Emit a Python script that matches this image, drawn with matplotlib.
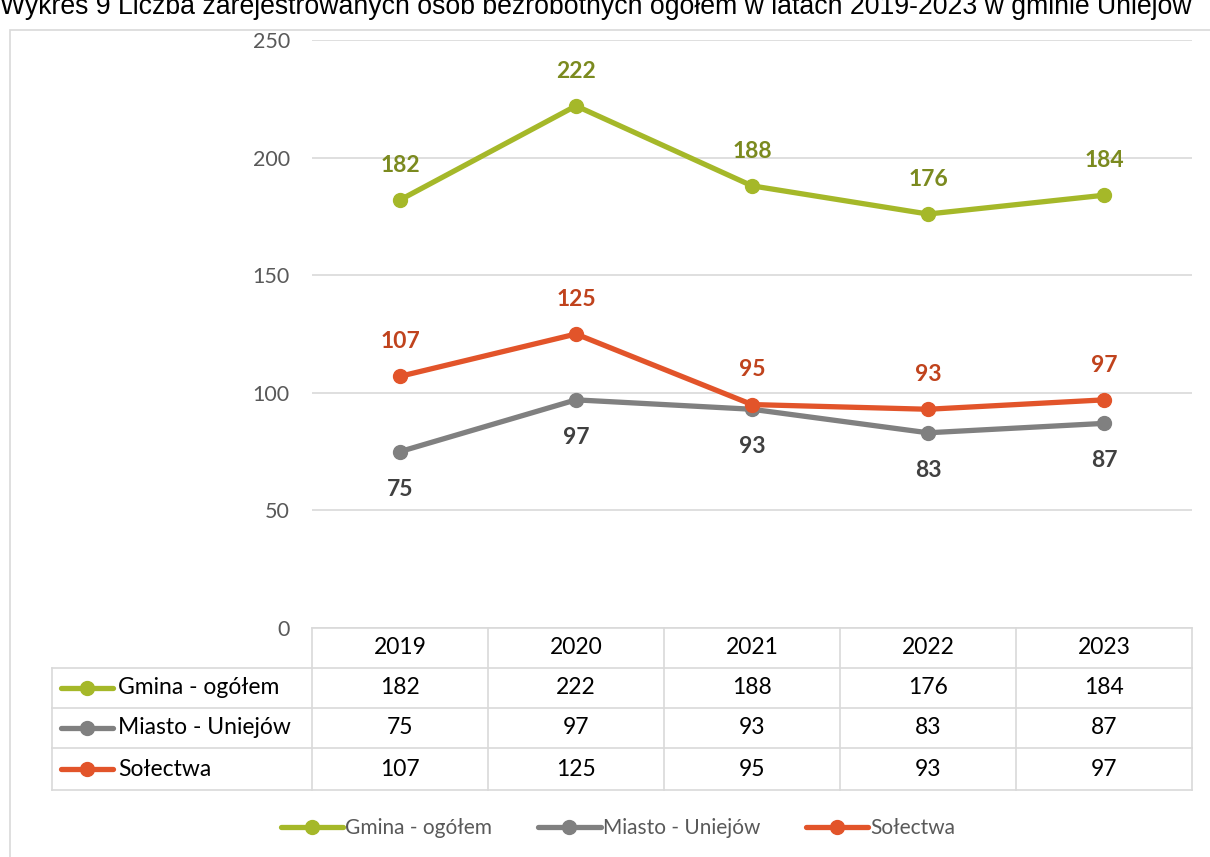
import matplotlib.pyplot as plt
from matplotlib.lines import Line2D
from matplotlib.patches import Rectangle
import matplotlib.transforms as mtransforms

years = ["2019", "2020", "2021", "2022", "2023"]
gmina = [182, 222, 188, 176, 184]
miasto = [75, 97, 93, 83, 87]
solectwa = [107, 125, 95, 93, 97]

series_names = ["Gmina - ogółem", "Miasto - Uniejów", "Sołectwa"]
line_colors = ["#a5b829", "#808080", "#e2542a"]
label_colors = ["#7b8a1f", "#404040", "#c0431d"]
label_offsets = [25, -27, 25]  # points; Miasto labels sit under the line

W, H = 1210, 857
plt.rcParams["font.family"] = ["Lato", "DejaVu Sans"]

fig = plt.figure(figsize=(W / 100, H / 100), dpi=100)

# outer chart frame (only left and top edges visible)
fig.add_artist(Rectangle((10 / W, -0.1), 1.2, 1 - 30 / H + 0.1,
                         transform=fig.transFigure, fill=False,
                         edgecolor="#d9d9d9", linewidth=1.2))

fig.text(0.0, 1 - 14 / H, "Wykres 9 Liczba zarejestrowanych osób bezrobotnych ogółem "
         "w latach 2019-2023 w gminie Uniejów",
         family="Liberation Sans", fontsize=19.2, color="#000000",
         ha="left", va="baseline")

ax = fig.add_axes([312 / W, 1 - 628 / H, 880 / W, 588 / H])
x = list(range(len(years)))
ax.set_xlim(-0.5, len(years) - 0.5)
ax.set_ylim(0, 250)
ax.set_yticks([0, 50, 100, 150, 200, 250])
ax.set_xticks([])
ax.grid(axis="y", color="#d9d9d9", linewidth=1.2)
ax.set_axisbelow(True)
for s in ax.spines.values():
    s.set_visible(False)
ax.tick_params(axis="y", length=0, pad=16, labelsize=15.5, labelcolor="#595959")

all_series = [gmina, miasto, solectwa]
for vals, name, lc, tc, off in zip(all_series, series_names, line_colors,
                                   label_colors, label_offsets):
    ax.plot(x, vals, color=lc, linewidth=3.8, marker="o", markersize=10,
            solid_capstyle="round", label=name, zorder=3)
    for xi, v in zip(x, vals):
        ax.annotate(str(v), (xi, v), xytext=(0, off), textcoords="offset points",
                    ha="center", va="center", fontsize=16.5, fontweight="bold",
                    color=tc)

# data table under the axis
tr = mtransforms.blended_transform_factory(ax.transData, ax.transAxes)
rows_px = [628, 668, 708, 748, 790]
rows = [(628 - p) / 588 for p in rows_px]
x_lab = -0.5 - 260 / 176
grid_kw = dict(color="#d9d9d9", linewidth=1.2, transform=tr, clip_on=False)

ax.add_line(Line2D([-0.5, 4.5], [rows[0]] * 2, **grid_kw))
for r in rows[1:]:
    ax.add_line(Line2D([x_lab, 4.5], [r, r], **grid_kw))
for b in [-0.5 + i for i in range(len(years) + 1)]:
    ax.add_line(Line2D([b, b], [rows[0], rows[-1]], **grid_kw))
ax.add_line(Line2D([x_lab, x_lab], [rows[1], rows[-1]], **grid_kw))

tab_fs = 16.5
for xi, yr in zip(x, years):
    ax.text(xi, (rows[0] + rows[1]) / 2, yr, transform=tr, ha="center",
            va="center", fontsize=tab_fs, color="#000000")

for i, (vals, name, lc) in enumerate(zip(all_series, series_names, line_colors)):
    yc = (rows[i + 1] + rows[i + 2]) / 2
    x0 = x_lab + 9 / 176
    x1 = x_lab + 61 / 176
    ax.add_line(Line2D([x0, x1], [yc, yc], color=lc, linewidth=3.8,
                       solid_capstyle="round", transform=tr, clip_on=False))
    ax.add_line(Line2D([(x0 + x1) / 2], [yc], color=lc, marker="o",
                       markersize=10, transform=tr, clip_on=False))
    ax.text(x_lab + 66 / 176, yc, name, transform=tr, ha="left", va="center",
            fontsize=tab_fs, color="#000000")
    for xi, v in zip(x, vals):
        ax.text(xi, yc, str(v), transform=tr, ha="center", va="center",
                fontsize=tab_fs, color="#000000")

fig.legend(loc="center", bbox_to_anchor=(618 / W, 1 - 828 / H), ncol=3,
           frameon=False, fontsize=15, labelcolor="#595959",
           handlelength=3.0, handletextpad=0.1, columnspacing=2.2)

fig.savefig("out.png", dpi=100)
plt.close(fig)
